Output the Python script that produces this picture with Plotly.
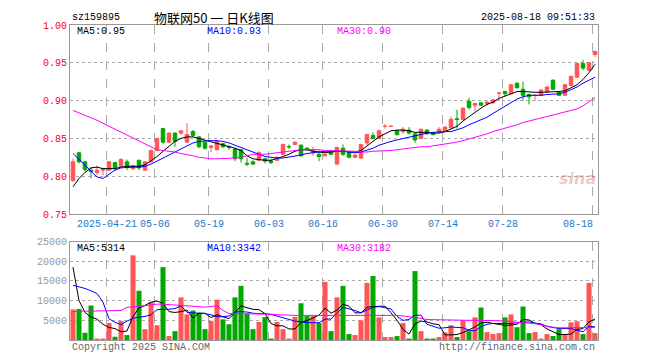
import plotly.graph_objects as go
from plotly.subplots import make_subplots

# ---------------- data ----------------
open_ = [0.794,0.831,0.819,0.808,0.805,0.808,0.808,0.818,0.813,0.819,
         0.810,0.821,0.808,0.819,0.834,0.863,0.845,0.857,0.857,0.845,
         0.859,0.852,0.845,0.838,0.835,0.843,0.839,0.836,0.835,0.817,
         0.819,0.821,0.823,0.820,0.821,0.829,0.839,0.842,0.841,0.837,
         0.831,0.829,0.827,0.833,0.816,0.837,0.831,0.825,0.824,0.844,
         0.854,0.850,0.866,0.866,0.860,0.859,0.861,0.856,0.850,0.861,
         0.857,0.859,0.860,0.864,0.876,0.875,0.899,0.894,0.897,0.896,
         0.897,0.910,0.912,0.909,0.923,0.915,0.908,0.907,0.907,0.911,
         0.927,0.911,0.907,0.920,0.931,0.949,0.940,0.961]
high = [0.823,0.832,0.820,0.812,0.814,0.811,0.820,0.819,0.824,0.822,
        0.815,0.822,0.820,0.835,0.851,0.864,0.858,0.858,0.861,0.870,
        0.861,0.853,0.846,0.841,0.847,0.844,0.841,0.837,0.836,0.824,
        0.821,0.833,0.824,0.823,0.826,0.843,0.842,0.846,0.842,0.838,
        0.839,0.834,0.830,0.834,0.839,0.842,0.832,0.829,0.843,0.856,
        0.858,0.862,0.869,0.867,0.861,0.865,0.865,0.857,0.863,0.862,
        0.858,0.865,0.866,0.879,0.888,0.891,0.904,0.897,0.898,0.900,
        0.902,0.911,0.913,0.922,0.924,0.925,0.909,0.908,0.915,0.919,
        0.928,0.912,0.922,0.933,0.950,0.954,0.951,0.966]
low = [0.793,0.817,0.806,0.797,0.801,0.801,0.807,0.808,0.812,0.808,
       0.808,0.808,0.807,0.818,0.833,0.843,0.844,0.839,0.855,0.844,
       0.852,0.837,0.835,0.832,0.834,0.837,0.835,0.820,0.818,0.813,
       0.815,0.820,0.817,0.816,0.820,0.828,0.836,0.841,0.826,0.834,
       0.827,0.820,0.826,0.828,0.815,0.827,0.824,0.824,0.823,0.841,
       0.849,0.849,0.863,0.865,0.854,0.856,0.855,0.844,0.849,0.855,
       0.854,0.857,0.859,0.863,0.863,0.874,0.888,0.886,0.893,0.893,
       0.896,0.900,0.905,0.908,0.916,0.900,0.895,0.900,0.906,0.910,
       0.914,0.906,0.906,0.919,0.930,0.940,0.939,0.958]
close = [0.819,0.819,0.809,0.806,0.808,0.810,0.819,0.811,0.822,0.812,
         0.814,0.811,0.819,0.834,0.850,0.845,0.857,0.846,0.860,0.855,
         0.854,0.839,0.837,0.840,0.846,0.839,0.838,0.823,0.823,0.816,
         0.816,0.831,0.820,0.818,0.825,0.842,0.839,0.845,0.827,0.835,
         0.835,0.826,0.829,0.829,0.838,0.829,0.825,0.828,0.842,0.855,
         0.850,0.860,0.866,0.866,0.855,0.862,0.857,0.848,0.862,0.856,
         0.855,0.862,0.865,0.875,0.875,0.890,0.891,0.896,0.894,0.898,
         0.901,0.910,0.909,0.921,0.917,0.907,0.905,0.907,0.914,0.918,
         0.915,0.907,0.921,0.932,0.949,0.943,0.950,0.965]

ma5 = [0.786,0.797,0.805,0.811,0.812,0.810,0.810,0.810,0.812,0.813,
       0.813,0.813,0.815,0.820,0.826,0.833,0.840,0.846,0.850,0.852,
       0.852,0.850,0.848,0.845,0.843,0.842,0.839,0.837,0.834,0.827,
       0.823,0.822,0.821,0.821,0.823,0.826,0.829,0.833,0.835,0.835,
       0.833,0.832,0.831,0.832,0.833,0.833,0.832,0.832,0.834,0.840,
       0.846,0.852,0.856,0.860,0.861,0.861,0.860,0.858,0.858,0.858,
       0.857,0.857,0.859,0.862,0.866,0.873,0.879,0.884,0.890,0.895,
       0.898,0.903,0.906,0.909,0.912,0.912,0.911,0.911,0.911,0.911,
       0.912,0.912,0.913,0.917,0.921,0.928,0.937,0.948]
ma10 = [0.830,0.822,0.814,0.806,0.799,0.797,0.803,0.808,0.811,0.812,
        0.812,0.812,0.813,0.816,0.820,0.825,0.829,0.833,0.837,0.841,
        0.844,0.846,0.847,0.847,0.847,0.846,0.844,0.841,0.838,0.835,
        0.831,0.829,0.826,0.825,0.824,0.824,0.825,0.827,0.828,0.830,
        0.831,0.832,0.833,0.833,0.833,0.833,0.832,0.831,0.832,0.834,
        0.837,0.841,0.844,0.846,0.848,0.850,0.852,0.854,0.856,0.857,
        0.858,0.859,0.859,0.859,0.861,0.864,0.868,0.871,0.874,0.878,
        0.883,0.888,0.893,0.897,0.902,0.905,0.907,0.907,0.907,0.908,
        0.908,0.909,0.911,0.914,0.918,0.923,0.927,0.931]
ma30 = [0.887,0.884,0.881,0.877,0.874,0.870,0.866,0.862,0.859,0.855,
        0.851,0.847,0.843,0.839,0.835,0.834,0.833,0.832,0.830,0.829,
        0.827,0.825,0.824,0.823,0.823,0.823,0.823,0.824,0.825,0.827,
        0.829,0.829,0.829,0.830,0.831,0.832,0.833,0.834,0.835,0.835,
        0.835,0.835,0.834,0.834,0.834,0.834,0.834,0.833,0.832,0.832,
        0.833,0.833,0.834,0.834,0.835,0.836,0.837,0.838,0.839,0.839,
        0.840,0.841,0.842,0.844,0.845,0.847,0.849,0.851,0.853,0.856,
        0.859,0.861,0.863,0.866,0.868,0.871,0.873,0.876,0.878,0.880,
        0.882,0.884,0.885,0.887,0.889,0.893,0.898,0.904]

volume = [7750,7900,1830,8750,250,250,4330,830,4830,1250,
          21500,12500,2750,9580,3750,18500,1000,2250,10830,6500,
          7500,6900,2750,4830,10250,5250,4000,10830,13750,6670,
          2750,4580,5830,250,4580,2750,250,5830,9330,6080,
          6080,4330,14750,2250,10830,13750,1500,1250,5000,14500,
          16250,5750,750,750,1000,4330,250,17500,2250,250,
          250,750,1920,3750,750,5000,2250,5750,8250,2000,
          1500,1750,5750,6500,3250,8500,1750,2000,250,1500,
          1000,2750,1500,4500,4750,1500,14500,1750]
vol_ma5 = [18500,10000,7000,5800,5300,4000,3200,2900,2100,2300,
           6000,8100,8800,9600,9900,9300,7200,7000,7200,7600,
           5600,6800,6800,5700,6400,5900,5400,7000,8700,8200,
           7800,7700,6700,4200,3600,3600,2800,2800,4500,4900,
           5500,6300,8100,6800,7600,9100,8600,6900,6900,8300,
           8500,8600,8600,6900,5000,2700,1500,4100,4800,4600,
           4100,3900,1300,1300,1400,1900,2600,3300,4300,4500,
           4200,3900,3700,3800,4000,5200,5100,4200,3900,2800,
           2000,1400,1400,1500,2700,2900,4600,5314]
vol_ma10 = [13900,13500,13100,12500,11800,9600,5400,4500,3900,4800,
            5500,5800,6000,6400,7700,7800,7800,8000,8700,7000,
            6900,6900,6700,6400,5900,5900,6100,7100,7200,7100,
            6800,6700,6700,6500,6100,5700,5300,4800,4600,4400,
            4400,4400,5300,5300,6900,8300,7900,7500,6900,7600,
            8300,8500,8200,7900,6000,5000,5200,6300,6300,4000,
            3500,3000,3100,3300,3200,3100,2500,2300,3400,4000,
            4200,4200,4200,4200,4400,4500,4600,4300,4100,3500,
            3200,2900,2900,2900,2500,2100,3500,3342]
vol_ma30 = [7250,7300,7350,7400,7450,7500,7500,7500,7500,8300,
            8400,8500,8700,8900,9100,9100,9000,8900,8800,8750,
            8600,8500,8350,8500,8700,7500,6700,6700,6700,6700,
            6700,6700,6650,6550,6450,6350,6250,6250,6250,6250,
            6250,6250,6250,6250,6300,6350,6400,6400,6400,6420,
            6400,6350,6300,6250,6250,6100,5900,5800,5500,5200,
            5150,5100,5050,5000,5000,5000,5000,5000,5000,5000,
            5000,4900,4800,4600,4500,4400,4300,4200,4000,3400,
            3200,3100,3100,3100,3100,3100,3150,3182]

tick_index = [6, 14, 23, 33, 42, 52, 62, 72, 87]
tick_labels = ["2025-04-21", "05-06", "05-19", "06-03", "06-16",
               "06-30", "07-14", "07-28", "08-18"]
price_ticks = [0.75, 0.80, 0.85, 0.90, 0.95, 1.00]
vol_ticks = [5000, 10000, 15000, 20000, 25000]

# ---------------- figure ----------------
RED = "#FF5555"
GREEN = "#00A800"
MONO = "Liberation Mono, DejaVu Sans Mono, monospace"

x = list(range(len(close)))
up = [c >= o for o, c in zip(open_, close)]
vol_colors = [RED if u else GREEN for u in up]

fig = make_subplots(rows=2, cols=1, shared_xaxes=False,
                    row_heights=[0.6, 0.3125], vertical_spacing=0.0875)

fig.add_trace(go.Candlestick(
    x=x, open=open_, high=high, low=low, close=close,
    increasing=dict(line=dict(color=RED, width=1), fillcolor=RED),
    decreasing=dict(line=dict(color=GREEN, width=1), fillcolor=GREEN),
    whiskerwidth=0, hoverinfo="skip"), row=1, col=1)
for ser, col in [(ma5, "#000000"), (ma10, "#0000FF"), (ma30, "#FF00FF")]:
    fig.add_trace(go.Scatter(x=x, y=ser, mode="lines",
                             line=dict(color=col, width=1)), row=1, col=1)

fig.add_trace(go.Bar(x=x, y=volume, marker=dict(color=vol_colors, line=dict(width=0)),
                     width=0.84), row=2, col=1)
for ser, col in [(vol_ma5, "#000000"), (vol_ma10, "#0000FF"), (vol_ma30, "#FF00FF")]:
    fig.add_trace(go.Scatter(x=x, y=ser, mode="lines",
                             line=dict(color=col, width=1)), row=2, col=1)

tickvals = [i - 0.35 for i in tick_index]
ticktext = list(tick_labels)
ticktext[-1] = ticktext[-1] + "\u00a0" * 5

xcommon = dict(range=[-0.5, len(close) - 0.5], showline=True, mirror=True,
               linecolor="#999999", linewidth=1, showgrid=True,
               gridcolor="#AAAAAA", griddash="dash", gridwidth=1,
               tickvals=tickvals, ticks="", zeroline=False,
               rangeslider=dict(visible=False))
fig.update_xaxes(**xcommon, ticktext=ticktext, showticklabels=True,
                 tickfont=dict(family=MONO, size=10, color="#1E78C8"),
                 row=1, col=1)
fig.update_xaxes(**xcommon, showticklabels=False, row=2, col=1)

fig.update_yaxes(range=[0.75, 1.00], tickvals=price_ticks,
                 ticktext=[f"{v:.2f}" for v in price_ticks],
                 tickfont=dict(family=MONO, size=10, color="#FF0000"),
                 showline=True, mirror=True, linecolor="#999999",
                 showgrid=True, gridcolor="#AAAAAA", griddash="dot",
                 zeroline=False, ticks="", row=1, col=1)
fig.update_yaxes(range=[0, 25000], tickvals=vol_ticks,
                 ticktext=[str(v) for v in vol_ticks],
                 tickfont=dict(family=MONO, size=10, color="#999999"),
                 showline=True, mirror=True, linecolor="#999999",
                 showgrid=True, gridcolor="#AAAAAA", griddash="dot",
                 zeroline=False, ticks="", row=2, col=1)

# page has an 8px body margin: plot area lands at x 70..598, y 20..340
fig.update_layout(
    width=660, height=360, margin=dict(l=62, r=70, t=12, b=28),
    paper_bgcolor="white", plot_bgcolor="white", showlegend=False,
    boxgap=0.16, bargap=0.16, hovermode=False,
)

def ann(text, xp, yp, color="#000000", anchor="left", size=10, family=MONO, **kw):
    fig.add_annotation(text=text, x=xp, y=yp, xref="paper", yref="paper",
                       xanchor=anchor, yanchor="middle", showarrow=False,
                       font=dict(family=family, size=size, color=color), **kw)

W = 528.0
H = 320.0
def px(xpix):
    return (xpix - 70) / W
def py(ypix):
    return (340 - ypix) / H

ann("sz159895", px(70), py(12))
ann("物联网50 一 日K线图", px(214), py(12.5), anchor="center", size=13,
    family="Noto Sans CJK SC")
ann("2025-08-18 09:51:33", px(597), py(12.5), anchor="right")
ann(f"MA5:{ma5[-1]:.2f}", px(75), py(27))
ann(f"MA10:{ma10[-1]:.2f}", px(205), py(27), color="#0000FF")
ann(f"MA30:{ma30[-1]:.2f}", px(335), py(27), color="#FF00FF")
ann(f"MA5:{vol_ma5[-1]}", px(75), py(247))
ann(f"MA10:{vol_ma10[-1]}", px(205), py(247), color="#0000FF")
ann(f"MA30:{vol_ma30[-1]}", px(335), py(247), color="#FF00FF")
ann("Copyright 2025 SINA.COM", px(70), py(347.5), color="#666666")
ann("http://finance.sina.com.cn", px(597), py(347.5), color="#666666", anchor="right")
ann("<b><i>sina</i></b>", px(577), py(176), color="rgba(210,90,90,0.35)",
    anchor="center", size=16, family="DejaVu Sans")

fig.write_html("out.html")
